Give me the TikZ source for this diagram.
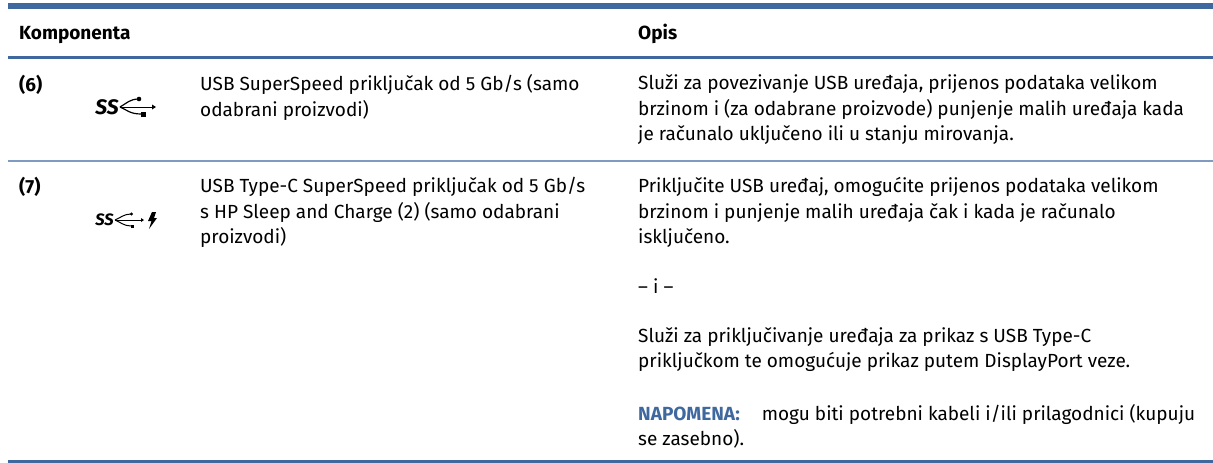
\documentclass[tikz,border=0pt]{standalone}
\usepackage{fontspec}
\setmainfont{Fira Sans}
\definecolor{hpblue}{HTML}{3F689E}
\definecolor{hprow}{HTML}{7F9BC0}
\newcommand{\tp}{\rule{0pt}{15pt}}
\tikzset{
  cell/.style={anchor=north west,inner sep=0pt,align=left,font=\fontsize{19}{25.6}\selectfont,text=black},
  head/.style={anchor=north west,inner sep=0pt,font=\fontsize{19}{25.6}\selectfont\bfseries,text=black},
  usbicon/.style={black,line width=1pt}
}
\begin{document}
\begin{tikzpicture}[x=1pt,y=-1pt]
\useasboundingbox (0,0) rectangle (1213,463);
\coordinate (tl) at (8,3); \coordinate (tr) at (1213,9);
\fill[hpblue] (tl) rectangle (tr);
\coordinate (hl) at (8,56); \coordinate (hr) at (1213,59);
\fill[hpblue] (hl) rectangle (hr);
\coordinate (rl) at (8,160); \coordinate (rr) at (1213,162);
\fill[hprow] (rl) rectangle (rr);
\coordinate (bl) at (8,459.5); \coordinate (br) at (1213,463);
\fill[hpblue] (bl) rectangle (br);
\node[head] (h1) at (19,24) {\tp Komponenta};
\node[head] (h2) at (638,24) {\tp Opis};
\node[head] (n6) at (19,74.5) {\tp (6)};
\node[head] (n7) at (19,177) {\tp (7)};
\node[cell] (a6) at (200,74.5) {\tp USB SuperSpeed priključak od 5 Gb/s (samo\\odabrani proizvodi)};
\node[cell] (a7) at (200,177) {\tp USB Type-C SuperSpeed priključak od 5 Gb/s\\s HP Sleep and Charge (2) (samo odabrani\\proizvodi)};
\node[cell] (b6) at (638,74.5) {\tp Služi za povezivanje USB uređaja, prijenos podataka velikom\\brzinom i (za odabrane proizvode) punjenje malih uređaja kada\\je računalo uključeno ili u stanju mirovanja.};
\node[cell] (b7) at (638,177) {\tp Priključite USB uređaj, omogućite prijenos podataka velikom\\brzinom i punjenje malih uređaja čak i kada je računalo\\isključeno.};
\node[cell] (b8) at (638,278) {\tp – i –};
\node[cell] (b9) at (638,327) {\tp Služi za priključivanje uređaja za prikaz s USB Type-C\\priključkom te omogućuje prikaz putem DisplayPort veze.};
\node[cell] (b10) at (638,404) {\tp\textcolor{hpblue}{\textbf{NAPOMENA:}}\hspace{22pt}mogu biti potrebni kabeli i/ili prilagodnici (kupuju\\se zasebno).};
% USB icons
\node[inner sep=0pt,font=\fontsize{21}{21}\selectfont\itshape\bfseries] (s6) at (107,107) {SS};
\draw[usbicon] (120,107) -- (152,107);
\draw[usbicon,line width=1.2pt] (120,107) .. controls (127,103) and (130,99) .. (139,99);
\draw[usbicon,line width=1.2pt] (120,107) .. controls (127,110) and (130,114) .. (141,114);
\fill (139,99) circle (2.3); \fill (141,112) rectangle (145.5,116.5);
\fill (156,107) -- (152,104.5) -- (152,109.5) -- cycle;
\node[inner sep=0pt,font=\fontsize{16.5}{17}\selectfont\itshape\bfseries] (s7) at (104.5,220) {SS};
\draw[usbicon,line width=.8pt] (115,220) -- (141,220);
\draw[usbicon,line width=1pt] (115,220) .. controls (120,218) and (124,214) .. (131,214);
\draw[usbicon,line width=1pt] (115,220) .. controls (120,222) and (124,226) .. (131,226);
\fill (131.5,214) circle (1.6); \fill (130.5,224.5) rectangle (133.5,227.5);
\fill (144,220) -- (141,218) -- (141,222) -- cycle;
\fill (152,212) -- (156,212) -- (154,218) -- (157,218) -- (149,229) -- (151.5,221) -- (148,221) -- cycle;
\end{tikzpicture}
\end{document}
